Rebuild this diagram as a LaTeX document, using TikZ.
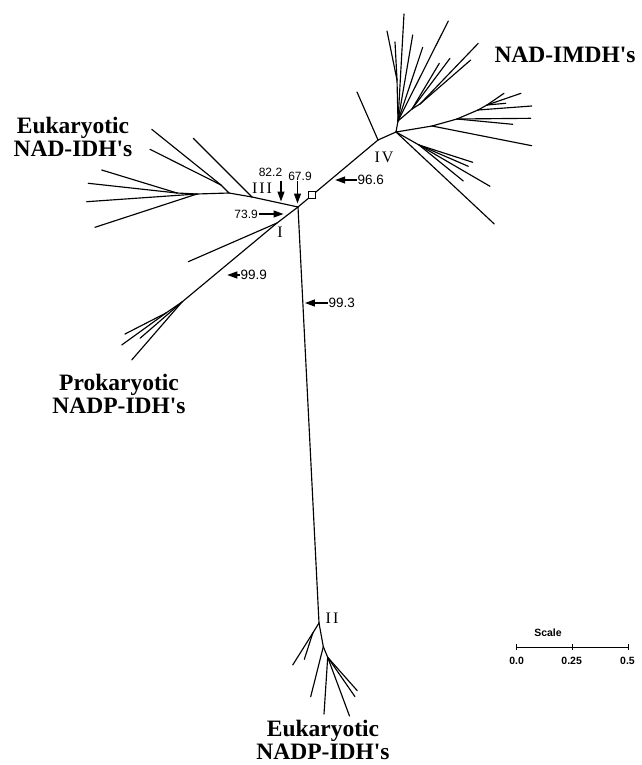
\documentclass[tikz,border=0pt]{standalone}
\usepackage{fontspec}
\setmainfont{Liberation Serif}
\newfontfamily\helv{Liberation Sans}
\usetikzlibrary{arrows.meta,calc}
\newcommand{\apo}{\textquotesingle}
\tikzset{
  tree/.style={line width=1.15pt, line cap=round},
  boot/.style={-{Triangle[length=10pt,width=7pt]}, line width=1.2pt},
  numbig/.style={font=\helv\fontsize{13.5}{13.5}\selectfont, inner sep=0.5pt},
  numsmall/.style={font=\helv\fontsize{12}{12}\selectfont, inner sep=0.5pt},
  clade/.style={font=\bfseries\fontsize{23.5}{23}\selectfont, align=center, inner sep=0pt},
  roman/.style={font=\fontsize{16}{16}\selectfont, inner sep=0pt},
  scaletxt/.style={font=\helv\bfseries\fontsize{10.5}{10.5}\selectfont, inner sep=0pt},
  sqbox/.style={draw, fill=white, line width=0.9pt, minimum size=7pt, inner sep=0pt}
}
\begin{document}
\begin{tikzpicture}[x=1pt,y=-1pt]
\useasboundingbox (0,0) rectangle (641,765);
% ---------- main skeleton ----------
\coordinate (C) at (298,207);
\coordinate (N1) at (277,223);
\coordinate (N2) at (319,623);
\coordinate (N3) at (252,197);
\coordinate (N4) at (378,140);
\coordinate (H) at (396,132);
\draw[tree] (C) -- (N1);
\draw[tree] (C) -- (N2);
\draw[tree] (C) -- (N3);
\draw[tree] (C) -- (N4);
\draw[tree] (N4) -- (H);
\coordinate (t4a) at (357,92);
\draw[tree] (N4) -- (t4a);
% ---------- NAD-IMDH upper fan ----------
\coordinate (U) at (398,121);
\coordinate (A1) at (397,80);
\coordinate (A2) at (412,109);
\coordinate (A3) at (420,104);
\draw[tree] (H) -- (U);
\draw[tree] (U) -- (A1);
\draw[tree] (A1) -- (387,31);
\draw[tree] (A1) -- (395,42);
\draw[tree] (U) -- (404,14);
\draw[tree] (U) -- (412.7,35);
\draw[tree] (U) -- (422.7,47.3);
\draw[tree] (U) -- (448.3,21);
\draw[tree] (U) -- (A2);
\draw[tree] (A2) -- (439.3,63.3);
\draw[tree] (A2) -- (450,58.3);
\draw[tree] (A2) -- (A3);
\draw[tree] (A3) -- (478.3,43.3);
\draw[tree] (A3) -- (470.7,60);
% ---------- NAD-IMDH right fan ----------
\coordinate (B) at (432,126);
\coordinate (B2) at (457,119);
\coordinate (B3) at (478,110);
\coordinate (B4) at (487,105);
\draw[tree] (H) -- (B);
\draw[tree] (B) -- (531.7,145.7);
\draw[tree] (B) -- (B2);
\draw[tree] (B2) -- (530.7,118.3);
\draw[tree] (B2) -- (512.7,124.3);
\draw[tree] (B2) -- (B3);
\draw[tree] (B3) -- (531.7,106);
\draw[tree] (B3) -- (B4);
\draw[tree] (B4) -- (504,93.3);
\draw[tree] (B4) -- (521,93.3);
\draw[tree] (B4) -- (505.7,103.3);
% ---------- NAD-IMDH lower fan ----------
\coordinate (D) at (419,145);
\draw[tree] (H) -- (D);
\draw[tree] (D) -- (472.7,162.3);
\draw[tree] (D) -- (468.3,166.3);
\draw[tree] (D) -- (490,186.3);
\draw[tree] (D) -- (463.3,181);
\draw[tree] (H) -- (494.3,224);
% ---------- Eukaryotic NAD-IDH ----------
\coordinate (E1) at (229,193);
\coordinate (E2) at (221,185);
\coordinate (E3) at (197,194);
\coordinate (E4) at (177,193);
\draw[tree] (N3) -- (193.3,138.3);
\draw[tree] (N3) -- (E1);
\draw[tree] (E1) -- (E2);
\draw[tree] (E2) -- (151.7,129.3);
\draw[tree] (E2) -- (150,149.3);
\draw[tree] (E1) -- (E3);
\draw[tree] (E3) -- (86.7,201.7);
\draw[tree] (E3) -- (95,227.3);
\draw[tree] (E3) -- (E4);
\draw[tree] (E4) -- (101.7,170);
\draw[tree] (E4) -- (88.3,183.3);
% ---------- Prokaryotic NADP-IDH ----------
\coordinate (P) at (182,302);
\coordinate (P2) at (166,313);
\draw[tree] (N1) -- (188.3,261.7);
\draw[tree] (N1) -- (P);
\draw[tree] (P) -- (131.7,360);
\draw[tree] (P) -- (140,338.3);
\draw[tree] (P) -- (P2);
\draw[tree] (P2) -- (125,334);
\draw[tree] (P2) -- (121.7,345);
% ---------- Eukaryotic NADP-IDH ----------
\coordinate (J1) at (312.8,633);
\coordinate (F) at (323.3,646.7);
\coordinate (G) at (327.7,657.3);
\draw[tree] (N2) -- (J1);
\draw[tree] (J1) -- (292.7,665);
\draw[tree] (J1) -- (304.3,659.3);
\draw[tree] (N2) -- (F);
\draw[tree] (F) -- (310.7,696.7);
\draw[tree] (F) -- (G);
\draw[tree] (G) -- (357.3,690.7);
\draw[tree] (G) -- (355,696.7);
\draw[tree] (G) -- (324,714);
\draw[tree] (G) -- (349.5,716);
% ---------- square marker ----------
\node[sqbox] (sq) at ($(C)!0.175!(N4)$) {};
% ---------- roman numerals ----------
\node[roman] (rI) at (280,232) {I};
\node[roman] (rII) at (332,618) {I\hspace{2pt}I};
\node[roman] (rIII) at (262,188) {I\hspace{2pt}I\hspace{2pt}I};
\node[roman] (rIV) at (384,157) {I\hspace{2pt}V};
% ---------- bootstrap labels ----------
\coordinate (a966) at ($(C)!0.44!(N4)+(2,0)$);
\node[numbig, anchor=west] (l966) at (357,180) {96.6};
\draw[boot] (l966.west) -- (a966 |- l966.west);
\coordinate (a993) at ($(C)!0.235!(N2)+(2,0)$);
\node[numbig, anchor=west] (l993) at (328,303) {99.3};
\draw[boot] (l993.west) -- (a993 |- l993.west);
\coordinate (a999) at ($(N1)!0.55!(P)+(2.5,0)$);
\node[numbig, anchor=west] (l999) at (240,275) {99.9};
\draw[boot] (l999.west) -- (a999 |- l999.west);
\coordinate (a739) at (283.5,215);
\node[numsmall, anchor=east] (l739) at (258.5,214) {73.9};
\draw[boot] (l739.east) -- (a739 |- l739.east);
\node[numsmall] (l822) at (270.5,172.5) {82.2};
\coordinate (a822) at (281,201.5);
\coordinate (s822) at (281,180.5);
\draw[boot] (s822) -- (a822);
\node[numsmall] (l679) at (300,176) {67.9};
\coordinate (a679) at (297.5,203.5);
\draw[boot] (a679 |- l679.south) -- (a679);
% ---------- clade names ----------
\node[clade] (cIMDH) at (565,55) {NAD-IMDH\apo s};
\node[clade] (cNADIDH) at (73,137) {Eukaryotic\\NAD-IDH\apo s};
\node[clade] (cPro) at (119,394) {Prokaryotic\\NADP-IDH\apo s};
\node[clade] (cEuk) at (323,740) {Eukaryotic\\NADP-IDH\apo s};
% ---------- scale ----------
\node[scaletxt] (stitle) at (548,633) {Scale};
\coordinate (s0) at (516,647);
\coordinate (s1) at (572,647);
\coordinate (s2) at (628,647);
\draw[line width=0.8pt] (s0) -- (s2);
\draw[line width=0.8pt] ($(s0)+(0,-3)$) -- ($(s0)+(0,3)$);
\draw[line width=0.8pt] ($(s1)+(0,-3)$) -- ($(s1)+(0,3)$);
\draw[line width=0.8pt] ($(s2)+(0,-3)$) -- ($(s2)+(0,3)$);
\node[scaletxt] (sl0) at (516.7,661) {0.0};
\node[scaletxt] (sl1) at (571.7,661) {0.25};
\node[scaletxt] (sl2) at (627.5,661) {0.5};
\end{tikzpicture}
\end{document}
